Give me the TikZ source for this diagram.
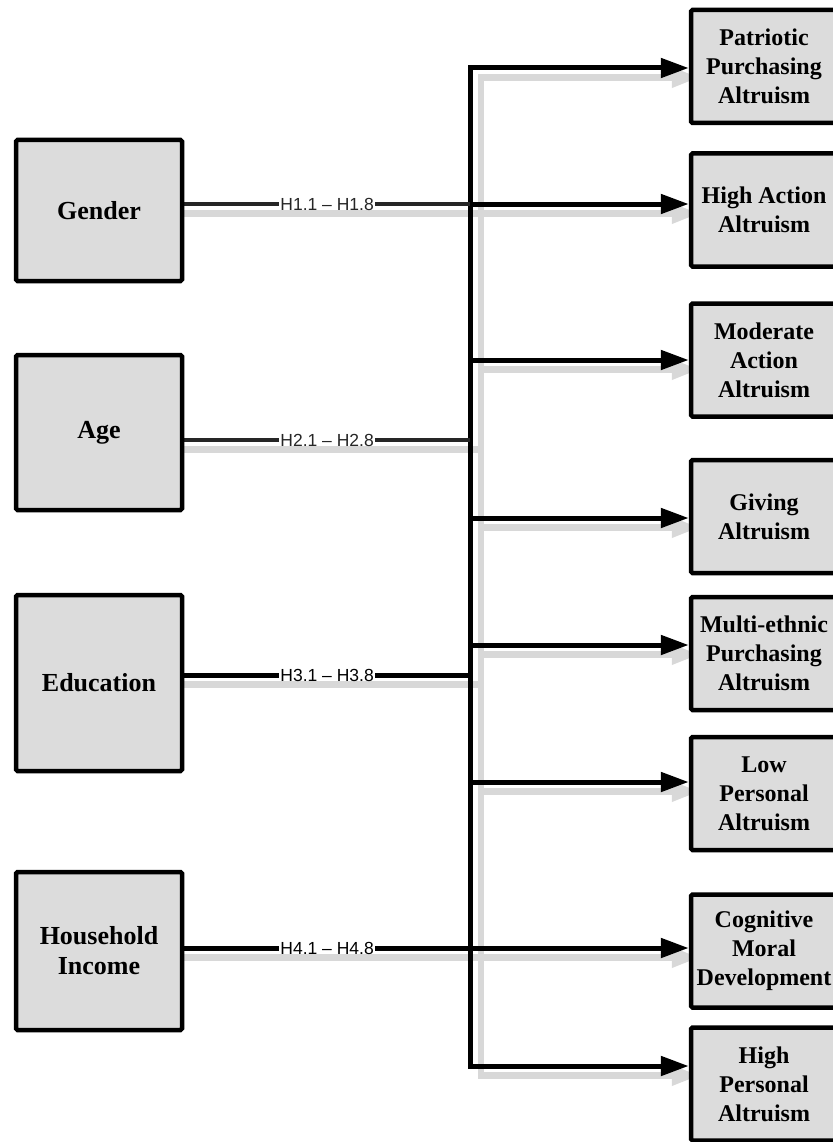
\documentclass[tikz,border=0pt]{standalone}
\usepackage{fontspec}
\setmainfont{Liberation Serif}
\newfontfamily\lblfont{Liberation Sans}
\usetikzlibrary{arrows.meta}
\pgfdeclarelayer{shadowlayer}
\pgfdeclarelayer{linelayer}
\pgfsetlayers{shadowlayer,linelayer,main}
\definecolor{boxfill}{HTML}{DCDCDC}
\definecolor{shadowgray}{HTML}{D8D8D8}
\begin{document}
\begin{tikzpicture}[x=1pt,y=-1pt,
  box/.style={draw=black, line width=4.5pt, fill=boxfill, align=center,
    inner sep=0pt, rounded corners=1.5pt},
  lbox/.style={box, minimum width=166pt, font=\bfseries\fontsize{26}{30}\selectfont},
  rbox/.style={box, minimum width=146pt, minimum height=113pt,
    font=\bfseries\fontsize{24}{29}\selectfont},
  ln/.style={line width=5pt, black},
  arr/.style={ln, -{Triangle[length=28pt,width=19pt]}},
  hl/.style={line width=4.5pt, black!85},
  sh/.style={line width=6.5pt, shadowgray},
  sharr/.style={sh, -{Triangle[length=28pt,width=19pt]}},
  lab/.style={fill=white, font=\lblfont\fontsize{17.5}{17.5}\selectfont,
    inner xsep=1pt, inner ysep=0pt, text height=12.6pt, text depth=0pt}
]
\useasboundingbox (0,0) rectangle (832,1142);

% left boxes
\node[lbox, minimum height=141pt] (gen) at (99,210.5) {Gender};
\node[lbox, minimum height=155pt] (age) at (99,432.5) {Age};
\node[lbox, minimum height=176pt] (edu) at (99,683) {Education};
\node[lbox, minimum height=158pt] (inc) at (99,951) {Household\\Income};

% right boxes
\node[rbox] (r1) at (764,66.5) {Patriotic\\Purchasing\\Altruism};
\node[rbox] (r2) at (764,210) {High Action\\Altruism};
\node[rbox] (r3) at (764,360) {Moderate\\Action\\Altruism};
\node[rbox] (r4) at (764,516.5) {Giving\\Altruism};
\node[rbox] (r5) at (764,653.5) {Multi-ethnic\\Purchasing\\Altruism};
\node[rbox] (r6) at (764,793.5) {Low\\Personal\\Altruism};
\node[rbox] (r7) at (764,951) {Cognitive\\Moral\\Development};
\node[rbox] (r8) at (764,1084) {High\\Personal\\Altruism};

% trunk coordinates
\coordinate (b1) at (470,68);
\coordinate (b2) at (470,204);
\coordinate (b3) at (470,360);
\coordinate (ja) at (470,440);
\coordinate (b4) at (470,518);
\coordinate (b5) at (470,645);
\coordinate (je) at (470,675);
\coordinate (b6) at (470,782);
\coordinate (b7) at (470,948);
\coordinate (b8) at (470,1066);

% shadows
\begin{pgfonlayer}{shadowlayer}
\begin{scope}[transform canvas={xshift=11pt,yshift=-9.5pt}]
  \draw[sh, line cap=rect] (b1) -- (b8);
  \foreach \i in {1,...,8} {\draw[sharr] (b\i) -- (b\i -| r\i.west);}
  \draw[sh] (gen.center |- b2) -- (b2);
  \draw[sh] (age.center |- ja) -- (ja);
  \draw[sh] (edu.center |- je) -- (je);
  \draw[sh] (inc.center |- b7) -- (b7);
\end{scope}
\end{pgfonlayer}

% connectors
\begin{pgfonlayer}{linelayer}
  \draw[ln, line cap=rect] (b1) -- (b8);
  \foreach \i in {1,...,8} {\draw[arr] (b\i) -- (b\i -| r\i.west);}
  \draw[hl] (gen.east |- b2) -- (b2) node[lab, midway] {H1.1 – H1.8};
  \draw[hl] (age.east |- ja) -- (ja) node[lab, midway] {H2.1 – H2.8};
  \draw[ln] (edu.east |- je) -- (je) node[lab, midway] {H3.1 – H3.8};
  \draw[ln] (inc.east |- b7) -- (b7) node[lab, midway] {H4.1 – H4.8};
\end{pgfonlayer}
\end{tikzpicture}
\end{document}
